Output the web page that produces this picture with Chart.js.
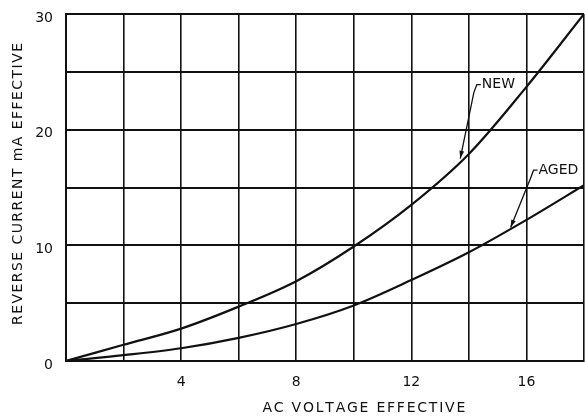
<!DOCTYPE html>
<html>
<head>
<meta charset="utf-8">
<script src="https://cdn.jsdelivr.net/npm/chart.js@4"></script>
<style>
html,body{margin:0;padding:0;background:#fff;}
#wrap{width:585px;height:418px;position:relative;}
</style>
</head>
<body>
<div id="wrap"><canvas id="c"></canvas></div>
<script>
// Data
const voltage = [0, 2, 4, 6, 8, 10, 12, 14, 16, 18];
const newCurrent = [0, 1.4, 2.8, 4.7, 6.9, 9.9, 13.5, 17.9, 23.7, 30];
const agedCurrent = [0, 0.5, 1.1, 2.0, 3.2, 4.8, 7.0, 9.4, 12.2, 15.2];
const xLabelValues = [4, 8, 12, 16];
const yLabelValues = [0, 10, 20, 30];
const xTitle = 'AC VOLTAGE EFFECTIVE';
const yTitle = 'REVERSE CURRENT mA EFFECTIVE';
// annotation labels: text, label anchor (data), arrow tip (data)
const labelTexts = ['NEW', 'AGED'];
const labelAnchors = [[14.45, 23.9], [16.42, 16.5]];
const arrowTips = [[13.7, 17.5], [15.45, 11.55]];

const FONT = '"DejaVu Sans", sans-serif';

const toPts = (ys) => voltage.map((x, i) => ({x: x, y: ys[i]}));

const decor = {
  id: 'decor',
  afterDraw(chart) {
    const ctx = chart.ctx;
    const xs = chart.scales.x, ys = chart.scales.y;
    ctx.save();
    ctx.fillStyle = '#111';
    ctx.strokeStyle = '#111';
    ctx.font = '14px ' + FONT;
    ctx.textBaseline = 'middle';
    function spaced(text, cx, cy, width) {
      const w = ctx.measureText(text).width;
      const extra = (width - w) / (text.length - 1);
      let x = cx - width / 2;
      for (const ch of text) {
        ctx.fillText(ch, x, cy);
        x += ctx.measureText(ch).width + extra;
      }
    }
    ctx.textAlign = 'left';
    spaced(xTitle, 362, 408, 199);
    ctx.save();
    ctx.translate(18, 184);
    ctx.rotate(-Math.PI / 2);
    spaced(yTitle, 0, 0, 282);
    ctx.restore();

    // annotations
    ctx.font = '14px ' + FONT;
    ctx.lineWidth = 1.3;
    for (let i = 0; i < labelTexts.length; i++) {
      const lx = xs.getPixelForValue(labelAnchors[i][0]);
      const ly = ys.getPixelForValue(labelAnchors[i][1]);
      const tx = xs.getPixelForValue(arrowTips[i][0]);
      const ty = ys.getPixelForValue(arrowTips[i][1]);
      ctx.textAlign = 'left';
      ctx.fillText(labelTexts[i], lx, ly);
      ctx.beginPath();
      ctx.moveTo(lx - 1, ly);
      ctx.lineTo(lx - 5, ly);
      ctx.lineTo(lx - 8, ly + 8);
      ctx.lineTo(tx, ty);
      ctx.stroke();
      const ang = Math.atan2(ty - (ly + 8), tx - (lx - 8));
      const L = 8, W = 0.3;
      ctx.beginPath();
      ctx.moveTo(tx, ty);
      ctx.lineTo(tx - L * Math.cos(ang - W), ty - L * Math.sin(ang - W));
      ctx.lineTo(tx - L * Math.cos(ang + W), ty - L * Math.sin(ang + W));
      ctx.closePath();
      ctx.fill();
    }
    ctx.restore();
  }
};

new Chart(document.getElementById('c'), {
  type: 'line',
  data: {
    datasets: [
      {label: 'NEW', data: toPts(newCurrent), borderColor: '#111', borderWidth: 2.2, pointRadius: 0, cubicInterpolationMode: 'monotone', fill: false},
      {label: 'AGED', data: toPts(agedCurrent), borderColor: '#111', borderWidth: 2.2, pointRadius: 0, cubicInterpolationMode: 'monotone', fill: false}
    ]
  },
  options: {
    responsive: true,
    maintainAspectRatio: false,
    animation: false,
    layout: {padding: {top: 14, right: 1, left: 0, bottom: 0}},
    plugins: {legend: {display: false}, tooltip: {enabled: false}},
    scales: {
      x: {
        type: 'linear', min: 0, max: 18,
        afterFit(s) { s.height = 57; s.paddingLeft = 0; s.paddingRight = 0; },
        border: {display: true, color: '#111', width: 2},
        grid: {color: '#111', lineWidth: 1.6, drawTicks: false},
        ticks: {
          stepSize: 2, padding: 13, color: '#111', font: {family: FONT, size: 14},
          maxRotation: 0, autoSkip: false,
          callback: (v) => xLabelValues.includes(v) ? String(v) : ''
        }
      },
      y: {
        type: 'linear', min: 0, max: 30,
        afterFit(s) { s.width = 66; s.paddingTop = 0; s.paddingBottom = 0; },
        border: {display: true, color: '#111', width: 2},
        grid: {color: '#111', lineWidth: 2, drawTicks: false},
        ticks: {
          stepSize: 5, padding: 13, labelOffset: 4, color: '#111', font: {family: FONT, size: 14},
          autoSkip: false,
          callback: (v) => yLabelValues.includes(v) ? String(v) : ''
        }
      }
    }
  },
  plugins: [decor]
});
</script>
</body>
</html>
